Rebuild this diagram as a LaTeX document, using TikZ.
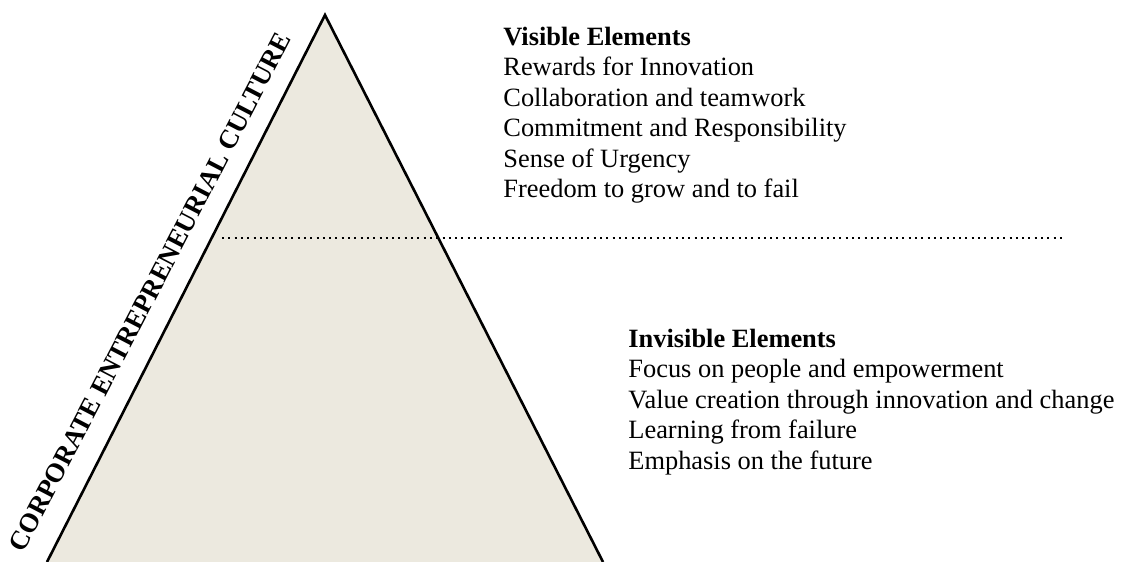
\documentclass[tikz,border=0pt]{standalone}
\usepackage{fontspec}
\setmainfont{Liberation Serif}
\definecolor{pyr}{RGB}{236,233,223}
\begin{document}
\begin{tikzpicture}[x=0.5pt,y=-0.5pt,
  item/.style={anchor=base west,inner sep=0pt,font=\fontsize{13.2}{15.2}\selectfont},
  head/.style={anchor=base west,inner sep=0pt,font=\fontsize{13.2}{15.2}\selectfont\bfseries},
  edge/.style={line width=1.3pt,line join=miter},
  divider/.style={line width=1pt,dash pattern=on 1pt off 2.15pt}]
\useasboundingbox (0,0) rectangle (1124,562);
\coordinate (apex) at (325,15);
\coordinate (bl) at (47,562);
\coordinate (br) at (603,562);
\fill[pyr] (bl) -- (apex) -- (br) -- cycle;
\draw[edge] (bl) -- (apex) -- (br);
\coordinate (ds) at (222,238);
\coordinate (de) at (1062,238);
\draw[divider] (ds) -- (de);
\node[rotate=62.5,anchor=base,inner sep=0pt,font=\fontsize{13.4}{15.2}\selectfont\bfseries] (side) at (158,296) {CORPORATE ENTREPRENEURIAL CULTURE};
\node[head] (vh) at (503,45) {Visible Elements};
\node[item] (v1) at (503,75.5) {Rewards for Innovation};
\node[item] (v2) at (503,106) {Collaboration and teamwork};
\node[item] (v3) at (503,136.5) {Commitment and Responsibility};
\node[item] (v4) at (503,167) {Sense of Urgency};
\node[item] (v5) at (503,197.5) {Freedom to grow and to fail};
\node[head] (ih) at (628,347) {Invisible Elements};
\node[item] (i1) at (628,377.5) {Focus on people and empowerment};
\node[item] (i2) at (628,408) {Value creation through innovation and change};
\node[item] (i3) at (628,438.5) {Learning from failure};
\node[item] (i4) at (628,469) {Emphasis on the future};
\end{tikzpicture}
\end{document}
